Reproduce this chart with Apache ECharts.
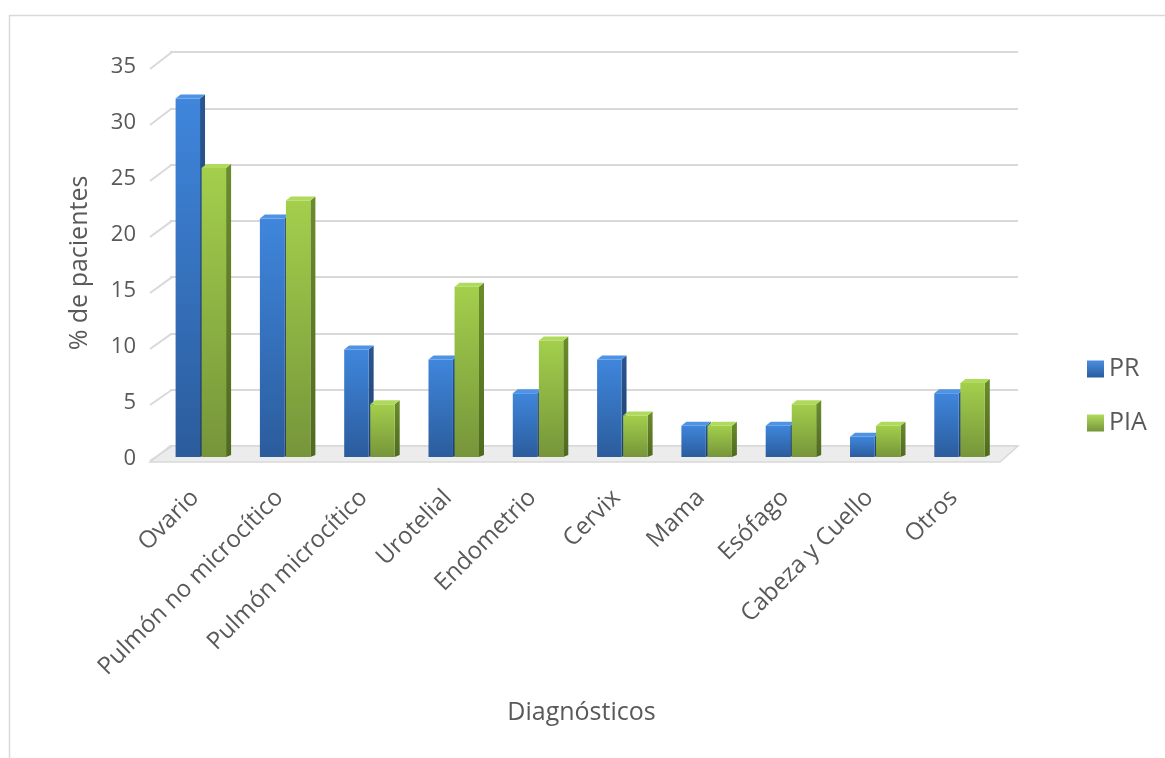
<!DOCTYPE html>
<html><head><meta charset="utf-8">
<script src="https://cdn.jsdelivr.net/npm/echarts@6/dist/echarts.min.js"></script>
<style>html,body{margin:0;padding:0;background:#fff}#c{width:1165px;height:758px}</style>
</head><body><div id="c"></div>
<script>
const categories = ['Ovario','Pulmón no microcítico','Pulmón microcítico','Urotelial','Endometrio','Cervix','Mama','Esófago','Cabeza y Cuello','Otros'];
const seriesNames = ['PR','PIA'];
const prValues  = [32.0, 21.3, 9.6, 8.7, 5.7, 8.7, 2.8, 2.8, 1.8, 5.7];
const piaValues = [25.8, 22.9, 4.7, 15.2, 10.4, 3.7, 2.8, 4.7, 2.8, 6.6];
const yTicks = [0,5,10,15,20,25,30,35];

const FONT = '"Open Sans", "DejaVu Sans", sans-serif';
const TXT = '#595959';

const palette = {
  PR:  {front:['#3f86dc','#2b5c9c'], side:['#2a5591','#1f3f6b'], top:'#4f93e4', off:-0.315},
  PIA: {front:['#a3cf4c','#76953a'], side:['#6a8c2c','#4f6a1f'], top:'#b0da5c', off:-0.006}
};

function makeRender(name){
  const p = palette[name];
  return function(params, api){
    const cat = api.value(0), v = api.value(1);
    const top = api.coord([cat, v]);
    const base = api.coord([cat, 0]);
    const band = api.size([1,0])[0];
    const w = band*0.29, dx = 5, dy = 4;
    const xl = top[0] + band*p.off, xr = xl + w;
    const yt = top[1] - 2, yb = base[1] - 2;
    return {type:'group', children:[
      {type:'polygon', shape:{points:[[xr,yt],[xr+dx,yt-dy],[xr+dx,yb-dy+2],[xr,yb]]},
        style:{fill:new echarts.graphic.LinearGradient(0,0,0,1,[{offset:0,color:p.side[0]},{offset:1,color:p.side[1]}])}},
      {type:'rect', shape:{x:xl,y:yt,width:w,height:yb-yt},
        style:{fill:new echarts.graphic.LinearGradient(0,0,0,1,[{offset:0,color:p.front[0]},{offset:1,color:p.front[1]}])}},
      {type:'polygon', shape:{points:[[xl,yt],[xl+dx,yt-dy],[xr+dx,yt-dy],[xr,yt]]},
        style:{fill:p.top}}
    ]};
  };
}

const chart = echarts.init(document.getElementById('c'), null, {renderer:'canvas'});
const grid0 = {left:160, right:162, top:67, height:392};
const grid1 = {left:170, right:147, top:52, height:394};

chart.setOption({
  backgroundColor:'#fff',
  animation:false,
  textStyle:{fontFamily:FONT},
  grid:[grid0, grid1],
  legend:{
    orient:'vertical', left:1082, top:349, itemWidth:17, itemHeight:17, itemGap:24,
    textStyle:{fontSize:25, lineHeight:30, color:TXT, fontFamily:FONT},
    data:seriesNames.map(n=>({name:n, icon:'rect'}))
  },
  xAxis:[
    {type:'category', gridIndex:0, data:categories,
      axisLine:{show:false}, axisTick:{show:false},
      axisLabel:{rotate:45, interval:0, fontSize:24, color:TXT, fontFamily:FONT, margin:28, padding:[0,10,0,0]},
      name:'Diagnósticos', nameLocation:'middle', nameGap:241,
      nameTextStyle:{fontSize:25, color:TXT, fontFamily:FONT}},
    {type:'category', gridIndex:1, data:categories, show:false}
  ],
  yAxis:[
    {type:'value', gridIndex:0, min:0, max:35, interval:5,
      axisLine:{show:false}, axisTick:{show:false}, splitLine:{show:false},
      axisLabel:{fontSize:22, color:TXT, fontFamily:FONT, margin:24},
      name:'% de pacientes', nameLocation:'middle', nameRotate:90, nameGap:68,
      nameTextStyle:{fontSize:25, color:TXT, fontFamily:FONT}},
    {type:'value', gridIndex:1, min:0, max:35, interval:5,
      axisLine:{show:false}, axisTick:{show:false}, axisLabel:{show:false},
      splitLine:{show:true, lineStyle:{color:'#d9d9d9', width:2}}}
  ],
  series:[
    {name:'PR', type:'custom', xAxisIndex:0, yAxisIndex:0, z:5,
      itemStyle:{color:new echarts.graphic.LinearGradient(0,0,0,1,[{offset:0,color:'#4a8ee0'},{offset:1,color:'#2b5c9c'}])},
      renderItem:makeRender('PR'), encode:{x:0,y:1},
      data:prValues.map((v,i)=>[i,v])},
    {name:'PIA', type:'custom', xAxisIndex:0, yAxisIndex:0, z:5,
      itemStyle:{color:new echarts.graphic.LinearGradient(0,0,0,1,[{offset:0,color:'#b0da5c'},{offset:1,color:'#76953a'}])},
      renderItem:makeRender('PIA'), encode:{x:0,y:1},
      data:piaValues.map((v,i)=>[i,v])}
  ]
});

// decorations: outer border, floor, slanted tick connectors
const g = [];
g.push({type:'rect', shape:{x:9.5,y:15.5,width:1200,height:800}, style:{fill:null, stroke:'#d9d9d9', lineWidth:1.5}, z:0});
const fy = chart.convertToPixel({yAxisIndex:0}, 0);
const by = chart.convertToPixel({yAxisIndex:1}, 0);
const fl = 150, fr = 1000, bl = 170, br = 1018;
g.push({type:'polygon', shape:{points:[[fl,fy+3],[bl,by],[br,by],[fr,fy+3]]},
  style:{fill:'#ececec', stroke:'#d9d9d9', lineWidth:1.5}, z:1});
yTicks.forEach(t=>{
  const a = chart.convertToPixel({yAxisIndex:0}, t);
  const b = chart.convertToPixel({yAxisIndex:1}, t);
  g.push({type:'line', shape:{x1:fl,y1:a+2,x2:bl+2,y2:b}, style:{stroke:'#d9d9d9', lineWidth:2}, z:1});
});
chart.setOption({graphic:g});
</script></body></html>
